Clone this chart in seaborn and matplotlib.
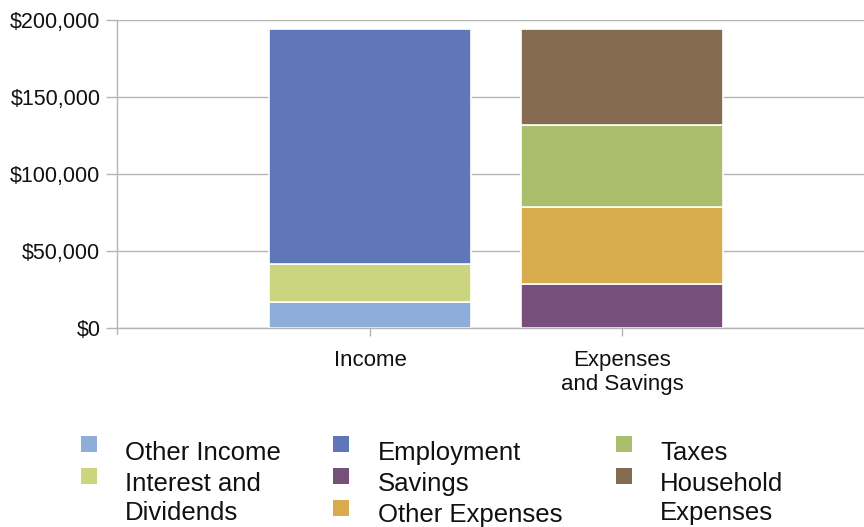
import matplotlib
matplotlib.use("Agg")
import matplotlib.pyplot as plt
from matplotlib.patches import Rectangle
from matplotlib.ticker import FuncFormatter
import pandas as pd
import seaborn as sns

# Chart data
categories = ["Income", "Expenses\nand Savings"]
income_parts = ["Other Income", "Interest and\nDividends", "Employment"]
income_values = [17000, 24500, 152500]
expense_parts = ["Savings", "Other Expenses", "Taxes", "Household\nExpenses"]
expense_values = [28500, 50000, 53500, 62000]
y_ticks = [0, 50000, 100000, 150000, 200000]

colors = {
    "Other Income": "#8EAEDA",
    "Interest and\nDividends": "#CBD57F",
    "Employment": "#5F77B9",
    "Savings": "#774F7B",
    "Other Expenses": "#D8AC4D",
    "Taxes": "#ABBE6B",
    "Household\nExpenses": "#856C51",
}

# Long-format table with a running base for each stacked segment
rows = []
for cat, parts, vals in [(categories[0], income_parts, income_values),
                         (categories[1], expense_parts, expense_values)]:
    base = 0
    for p, v in zip(parts, vals):
        rows.append({"category": cat, "component": p, "value": v, "base": base})
        base += v
df = pd.DataFrame(rows)

sns.set_theme(style="white")
plt.rcParams["font.family"] = ["Liberation Sans", "DejaVu Sans"]

W, H = 864, 527
fig = plt.figure(figsize=(W / 100, H / 100), dpi=100)
ax = fig.add_axes([117 / W, 1 - 328 / H, 747 / W, 308 / H])

for comp in income_parts + expense_parts:
    sub = df[df["component"] == comp]
    sns.barplot(data=sub, x="category", y="value", order=categories,
                bottom=sub["base"].values, color=colors[comp], width=0.8,
                errorbar=None, saturation=1, edgecolor="white", linewidth=1.2,
                ax=ax)

ax.set_xlim(-1.005, 1.96)
ax.set_ylim(0, 200000)
ax.set_yticks(y_ticks)
ax.yaxis.set_major_formatter(FuncFormatter(lambda v, _: f"${v:,.0f}"))
ax.set_xlabel("")
ax.set_ylabel("")

grid_c = "#B4B4B4"
ax.yaxis.grid(True, color=grid_c, linewidth=1)
ax.set_axisbelow(True)
for s in ["top", "right"]:
    ax.spines[s].set_visible(False)
for s in ["left", "bottom"]:
    ax.spines[s].set_color(grid_c)
    ax.spines[s].set_linewidth(1)
ax.plot([0, 0], [-0.02, 0], transform=ax.transAxes, color=grid_c, lw=1,
        clip_on=False)

ax.tick_params(axis="y", direction="out", length=8, width=1, color=grid_c,
               labelsize=15.5, pad=4, left=True, labelcolor="#111111")
ax.tick_params(axis="x", direction="out", length=6, width=1, color=grid_c,
               labelsize=16, pad=10, bottom=True, labelcolor="#111111")

# Legend laid out in three columns under the plot
legend_items = [
    ("Other Income", 81, 436, 125, 460),
    ("Interest and\nDividends", 81, 468, 125, 491),
    ("Employment", 333, 436, 378, 460),
    ("Savings", 333, 468, 378, 491),
    ("Other Expenses", 333, 500, 378, 522),
    ("Taxes", 616, 436, 660, 460),
    ("Household\nExpenses", 616, 468, 660, 491),
]
for label, sx, sy, tx, ty in legend_items:
    fig.patches.append(Rectangle((sx / W, 1 - (sy + 16) / H), 16 / W, 16 / H,
                                 transform=fig.transFigure,
                                 facecolor=colors[label], edgecolor="none"))
    lines = label.split("\n")
    for i, line in enumerate(lines):
        fig.text(tx / W, 1 - (ty + i * 29) / H, line, fontsize=18.5,
                 color="#111111", va="baseline", ha="left")

fig.savefig("out.png", dpi=100, facecolor="white")
